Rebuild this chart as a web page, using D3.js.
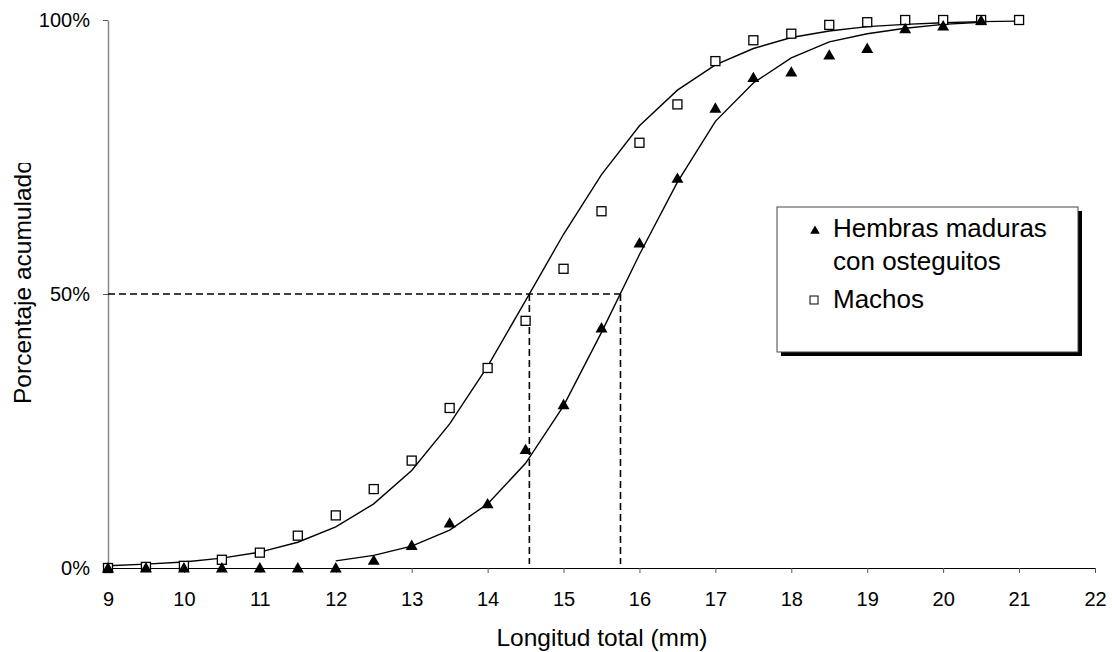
<!DOCTYPE html>
<html lang="es">
<head>
    <meta charset="UTF-8">
    <title>Porcentaje acumulado</title>
    <script src="https://cdn.jsdelivr.net/npm/d3@7"></script>
    <style>
        body { margin: 0; background: #fff; }
        svg { display: block; font-family: "Liberation Sans", Arial, sans-serif; }
    </style>
</head>
<body>
    <svg width="1112" height="652"></svg>

<script>
    // longitudes (mm)
    var tallasMachos = [9, 9.5, 10, 10.5, 11, 11.5, 12, 12.5, 13, 13.5, 14, 14.5, 15, 15.5, 16, 16.5, 17, 17.5, 18, 18.5, 19, 19.5, 20, 20.5, 21];
    var tallasHembras = [9, 9.5, 10, 10.5, 11, 11.5, 12, 12.5, 13, 13.5, 14, 14.5, 15, 15.5, 16, 16.5, 17, 17.5, 18, 18.5, 19, 19.5, 20, 20.5];

    // porcentaje acumulado observado
    var obsMachos = [0, 0.2, 0.4, 1.5, 2.8, 5.9, 9.6, 14.4, 19.6, 29.2, 36.5, 45.1, 54.6, 65.1, 77.6, 84.6, 92.5, 96.3, 97.5, 99.1, 99.6, 100, 100, 100, 100];
    var obsHembras = [0, 0, 0, 0, 0, 0, 0, 1.4, 4.1, 8.2, 11.7, 21.6, 29.8, 43.8, 59.3, 71.1, 83.9, 89.5, 90.5, 93.6, 94.8, 98.4, 98.9, 99.9];

    // curvas ajustadas
    var ajusteMachos = [0.4, 0.7, 1.1, 1.8, 2.9, 4.7, 7.5, 11.7, 17.8, 26.3, 36.8, 48.8, 60.9, 71.8, 80.7, 87.2, 91.8, 94.8, 96.8, 98.0, 98.8, 99.2, 99.5, 99.7, 99.8];
    var tallasAjusteHembras = [12, 12.5, 13, 13.5, 14, 14.5, 15, 15.5, 16, 16.5, 17, 17.5, 18, 18.5, 19, 19.5, 20, 20.5];
    var ajusteHembras = [1.3, 2.3, 4.0, 6.9, 11.7, 19.1, 29.6, 43.0, 57.2, 70.4, 81.5, 88.5, 93.1, 96.0, 97.5, 98.5, 99.2, 99.6];

    // talla media de madurez (50%)
    var l50 = [14.55, 15.75];

    var xTicks = [9, 10, 11, 12, 13, 14, 15, 16, 17, 18, 19, 20, 21, 22];
    var yTicks = [0, 50, 100];

    var svg = d3.select("svg");
    var x = d3.scaleLinear().domain([9, 22]).range([108, 1095]);
    var y = d3.scaleLinear().domain([0, 100]).range([568, 20]);

    // ejes
    var gx = svg.append("g")
        .attr("transform", "translate(0," + y(0) + ")")
        .call(d3.axisBottom(x).tickValues(xTicks).tickSize(5).tickSizeOuter(0).tickPadding(19));
    gx.select(".domain").attr("stroke", "#000");
    gx.selectAll(".tick line").attr("stroke", "#555");
    gx.selectAll("text").style("font-size", "20px").attr("fill", "#000");

    var gy = svg.append("g")
        .attr("transform", "translate(" + x(9) + ",0)")
        .call(d3.axisLeft(y).tickValues(yTicks).tickSize(5).tickSizeOuter(0).tickPadding(13)
            .tickFormat(function(d) { return d + "%"; }));
    gy.select(".domain").attr("stroke", "#888").attr("stroke-width", 1.5);
    gy.selectAll(".tick line").attr("stroke", "#555");
    gy.selectAll("text").style("font-size", "20px").attr("fill", "#000");

    svg.append("text")
        .attr("x", 602).attr("y", 646)
        .attr("text-anchor", "middle")
        .style("font-size", "24.5px")
        .text("Longitud total (mm)");

    // el titulo del eje y sale recortado en el original
    svg.append("clipPath").attr("id", "recorte")
        .append("rect").attr("x", 0).attr("y", 163).attr("width", 60).attr("height", 300);
    svg.append("g")
        .attr("clip-path", "url(#recorte)")
        .append("text")
        .attr("transform", "translate(31,404) rotate(-90)")
        .style("font-size", "24.5px")
        .text("Porcentaje acumulado");

    // lineas de 50%
    var guias = svg.append("g")
        .attr("stroke", "#000")
        .attr("stroke-width", 1.6)
        .attr("stroke-dasharray", "7,4")
        .attr("fill", "none");
    guias.append("line")
        .attr("x1", x(9)).attr("x2", x(l50[1]))
        .attr("y1", y(50)).attr("y2", y(50));
    l50.forEach(function(v) {
        guias.append("line")
            .attr("x1", x(v)).attr("x2", x(v))
            .attr("y1", y(50)).attr("y2", y(0) - 4);
    });

    // curvas
    var linea = d3.line()
        .x(function(d) { return x(d[0]); })
        .y(function(d) { return y(d[1]); });

    svg.append("path")
        .datum(d3.zip(tallasMachos, ajusteMachos))
        .attr("d", linea)
        .attr("fill", "none").attr("stroke", "#000").attr("stroke-width", 1.4);
    svg.append("path")
        .datum(d3.zip(tallasAjusteHembras, ajusteHembras))
        .attr("d", linea)
        .attr("fill", "none").attr("stroke", "#000").attr("stroke-width", 1.4);

    // puntos
    var tri = d3.symbol().type(d3.symbolTriangle).size(62);
    svg.append("g").selectAll("rect")
        .data(d3.zip(tallasMachos, obsMachos))
        .enter()
        .append("rect")
        .attr("x", function(d) { return x(d[0]) - 4.5; })
        .attr("y", function(d) { return y(d[1]) - 4.5; })
        .attr("width", 9).attr("height", 9)
        .attr("fill", "#fff").attr("stroke", "#000").attr("stroke-width", 1.3);

    svg.append("g").selectAll("path")
        .data(d3.zip(tallasHembras, obsHembras))
        .enter()
        .append("path")
        .attr("d", tri)
        .attr("transform", function(d) { return "translate(" + x(d[0]) + "," + (y(d[1]) + 1) + ")"; })
        .attr("fill", "#000");

    // leyenda
    var leg = svg.append("g");
    leg.append("rect")
        .attr("x", 781).attr("y", 211).attr("width", 301).attr("height", 145)
        .attr("fill", "#000");
    leg.append("rect")
        .attr("x", 777).attr("y", 207).attr("width", 301).attr("height", 145)
        .attr("fill", "#fff").attr("stroke", "#444").attr("stroke-width", 1);
    leg.append("path")
        .attr("d", d3.symbol().type(d3.symbolTriangle).size(40))
        .attr("transform", "translate(815,231)");
    leg.append("rect")
        .attr("x", 810).attr("y", 296).attr("width", 8).attr("height", 8)
        .attr("fill", "#fff").attr("stroke", "#000").attr("stroke-width", 1);
    var legTxt = [["Hembras maduras", 237], ["con osteguitos", 270], ["Machos", 308]];
    leg.selectAll("text")
        .data(legTxt)
        .enter()
        .append("text")
        .attr("x", 833)
        .attr("y", function(d) { return d[1]; })
        .style("font-size", "26px")
        .text(function(d) { return d[0]; });
</script>
</body>
</html>
